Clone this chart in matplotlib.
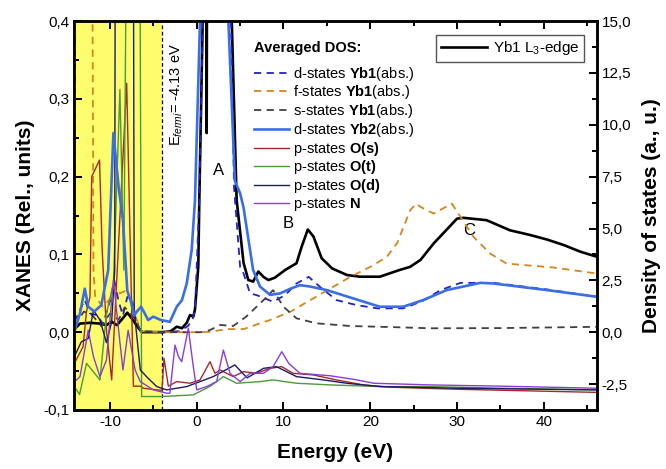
import matplotlib
matplotlib.use("Agg")
import matplotlib.pyplot as plt
from matplotlib.ticker import MultipleLocator, FuncFormatter

plt.rcParams['font.family'] = ['Liberation Sans', 'DejaVu Sans']
plt.rcParams['mathtext.fontset'] = 'custom'
plt.rcParams['mathtext.rm'] = 'Liberation Sans'
plt.rcParams['mathtext.it'] = 'Liberation Sans:italic'
plt.rcParams['mathtext.bf'] = 'Liberation Sans:bold'
plt.rcParams['axes.unicode_minus'] = False

# XANES Yb1 L3-edge (left axis)
xanes_e = [-14.0, -13.45, -12.3, -11.15, -10.4, -9.8, -9.2, -8.65, -8.0, -7.5, -6.7, -6.3, -5.0, -4.0,
           -3.0, -2.3, -1.7, -1.15, -0.77, -0.39, -0.2, 0.18, 0.3, 0.69, 1.0, 1.1, 1.15, 1.2, 1.5, 3.5,
           4.04, 4.6, 5.4, 5.95, 6.5, 7.1, 7.7, 8.26, 9.0, 10.2, 11.5, 12.1, 12.8, 13.45, 14.4, 15.6,
           17.3, 18.8, 21.1, 23.4, 24.6, 25.8, 27.3, 28.4, 30.0, 30.75, 33.4, 36.1, 38.4, 40.4, 42.3,
           44.2, 46.1]
xanes_i = [0.005, 0.011, 0.012, 0.011, 0.009, 0.0135, 0.009, 0.016, 0.025, 0.018, 0.005, 0.0, 0.0, 0.0,
           0.001, 0.007, 0.005, 0.012, 0.022, 0.02, 0.029, 0.084, 0.17, 0.4, 0.5, 0.55, 0.256, 0.55, 0.6, 0.6,
           0.4, 0.17, 0.089, 0.067, 0.065, 0.078, 0.071, 0.067, 0.07, 0.08, 0.0886, 0.11, 0.132, 0.123, 0.095,
           0.082, 0.0735, 0.0713, 0.0713, 0.08, 0.084, 0.093, 0.114, 0.127, 0.146, 0.147, 0.144, 0.131,
           0.125, 0.119, 0.112, 0.1035, 0.097]

# DOS curves (right axis)
yb1d_e = [-14.1, -13.45, -12.9, -12.3, -11.5, -10.8, -10.0, -9.5, -9.0, -8.5, -8.0, -7.5, -7.0, -6.5,
          -4.0, -2.0, -1.0, -0.5, -0.2, 0.0, 0.3, 0.75, 3.9, 4.3, 5.0, 5.4, 6.15, 6.9, 8.8, 10.2, 11.5,
          12.9, 14.2, 16.1, 18.4, 20.8, 23.8, 26.0, 28.1, 30.4, 34.2, 40.4, 46.1]
yb1d_r = [0.5, 1.07, 1.55, 0.9, 0.83, 0.4, 1.5, 2.5, 1.5, 0.8, 1.7, 1.6, 0.6, 0.05,
          0.0, 0.05, 0.3, 0.6, 1.07, 3.15, 6.5, 16.0, 16.0, 7.0, 3.15, 2.83, 1.87, 1.79, 1.47, 1.79, 2.35,
          2.67, 2.19, 1.55, 1.31, 1.15, 1.15, 1.5, 2.03, 2.38, 2.38, 2.06, 1.71]

yb1f_e = [-14.15, -13.7, -12.2, -11.9, -11.7, -10.8, -10.0, -9.3, -8.85, -8.2, -7.5, -6.9, -6.5, -4.0,
          0.0, 1.5, 3.5, 5.4, 6.15, 7.3, 8.45, 10.8, 13.1, 15.4, 17.7, 20.0, 21.9, 23.1, 24.6, 25.3, 25.8,
          27.3, 29.4, 30.4, 31.9, 33.8, 35.7, 38.0, 41.1, 46.1]
yb1f_r = [2.0, 40.0, 40.0, 3.0, 1.7, 1.23, 1.6, 2.2, 1.87, 2.0, 1.55, 0.6, 0.05, 0.0,
          0.0, 0.02, 0.15, 0.15, 0.26, 0.43, 0.59, 0.99, 1.55, 2.11, 2.67, 3.15, 3.63, 4.3, 5.88, 6.2, 6.04,
          5.72, 6.2, 5.56, 4.6, 3.8, 3.31, 3.23, 3.12, 2.83]

yb1s_e = [-14.1, -13.0, -12.0, -11.0, -10.0, -9.0, -8.3, -7.6, -7.0, -6.5, -4.0, 0.5, 1.5, 2.7, 4.2,
          5.7, 7.3, 8.1, 8.8, 10.0, 11.5, 13.8, 17.7, 23.1, 26.9, 35.0, 46.1]
yb1s_r = [0.3, 1.0, 0.8, 0.3, 0.9, 0.6, 1.2, 0.9, 0.6, 0.05, 0.0, 0.0, 0.1, 0.35, 0.3,
          0.75, 1.39, 1.71, 2.03, 1.23, 0.67, 0.43, 0.3, 0.24, 0.19, 0.2, 0.26]

yb2d_e = [-14.1, -13.45, -12.9, -12.5, -11.8, -11.0, -10.2, -9.6, -9.0, -8.5, -8.0, -7.6, -7.2, -6.9,
          -6.4, -5.6, -5.0, -4.2, -3.1, -2.3, -1.7, -1.15, -0.58, -0.2, 0.38, 1.0, 3.0, 3.65, 4.4, 5.0,
          5.4, 6.5, 7.3, 8.45, 9.6, 10.8, 11.9, 13.1, 15.0, 17.5, 21.1, 23.8, 26.1, 28.8, 32.7, 34.2,
          40.4, 46.1]
yb2d_r = [0.02, 0.91, 2.1, 1.23, 1.0, 1.3, 3.0, 9.6, 7.0, 5.4, 2.0, 1.5, 0.8, 1.0,
          1.23, 0.59, 0.75, 0.6, 0.5, 1.23, 1.55, 2.35, 3.96, 6.36, 15.0, 17.0, 17.0, 15.0, 7.3, 6.7,
          6.0, 3.0, 2.2, 1.8, 1.87, 2.1, 2.27, 2.2, 2.03, 1.7, 1.23, 1.23, 1.55, 2.03, 2.38, 2.35,
          2.03, 1.71]

os_e = [-14.1, -13.1, -12.7, -12.3, -12.1, -11.2, -10.9, -10.4, -9.8, -8.07, -7.3, -6.5, -6.15, -4.6,
        -4.0, -3.77, -3.27, -2.3, -0.77, 0.38, 1.53, 2.1, 2.7, 4.2, 5.4, 6.9, 8.45, 9.8, 11.1, 13.45,
        16.1, 19.2, 22.3, 30.0, 46.1]
os_r = [-1.5, -0.7, 1.0, 1.7, 7.5, 8.3, 4.0, 0.1, -2.3, 12.0, -2.6, -2.6, -2.7, -2.78,
        -2.8, -1.26, -2.6, -2.38, -2.46, -2.3, -1.42, -1.98, -1.82, -2.14, -1.9, -1.98, -1.74, -1.66,
        -1.98, -2.06, -2.3, -2.54, -2.65, -2.75, -2.9]

ot_e = [-14.1, -13.5, -12.7, -11.15, -10.4, -9.6, -8.85, -8.4, -7.9, -6.65, -6.35, -4.0, -0.4, 1.5,
        3.07, 4.6, 7.3, 8.8, 11.5, 15.4, 21.1, 26.9, 35.0, 46.1]
ot_r = [-2.62, -3.0, -1.5, -2.3, 0.9, 2.35, 11.7, 3.0, 30.0, 30.0, -3.1, -3.1, -3.02, -2.62,
        -2.14, -2.46, -2.38, -2.3, -2.46, -2.54, -2.62, -2.62, -2.7, -2.78]

od_e = [-14.1, -13.3, -12.5, -11.9, -11.15, -10.4, -9.8, -9.45, -9.35, -7.35, -7.2, -6.5, -5.6, -4.6,
        -3.46, -1.15, 0.38, 1.9, 4.4, 5.8, 7.7, 9.2, 11.5, 14.6, 17.3, 21.1, 30.0, 46.1]
od_r = [-1.18, -0.46, -0.3, 1.07, 0.59, -0.5, 0.5, 3.0, 30.0, 30.0, 1.0, -1.82, -2.22, -2.62,
        -2.78, -2.62, -2.38, -2.14, -1.58, -2.2, -1.74, -1.66, -2.14, -2.3, -2.46, -2.62, -2.7, -2.78]

n_e = [-14.1, -13.45, -12.5, -11.9, -11.15, -10.4, -9.6, -9.0, -8.5, -7.9, -7.1, -6.5, -5.0, -3.46,
       -3.1, -2.5, -2.1, -1.73, -0.97, -0.39, 0.0, 1.15, 2.3, 3.07, 3.84, 5.0, 6.15, 7.7, 8.8, 9.8,
       10.6, 11.9, 15.4, 18.5, 20.4, 26.9, 35.0, 46.1]
n_r = [-2.4, -2.14, 0.1, -1.18, -2.14, -1.34, 2.51, 0.1, -1.82, 0.1, -1.82, -2.38, -2.78, -2.94,
       -2.94, -0.62, -1.18, -1.42, 0.19, -1.66, -2.78, -2.62, -2.38, -0.86, -1.98, -2.38, -1.98, -1.98,
       -1.66, -0.94, -1.5, -1.98, -2.1, -2.3, -2.46, -2.54, -2.6, -2.7]

e_fermi = -4.0
peak_labels = ["A", "B", "C"]
peak_e = [2.46, 10.5, 31.4]
peak_i = [0.2085, 0.14, 0.131]

fig = plt.figure(figsize=(6.66, 4.69), dpi=100)
ax = fig.add_axes([0.111, 0.126, 0.785, 0.829])
ax2 = ax.twinx()

ax.axvspan(-14.15, e_fermi, color='#fdfd6e', zorder=0, lw=0)
ax.axvline(e_fermi, color='black', ls=(0, (3, 2)), lw=0.9, zorder=1)

ax.plot(xanes_e, xanes_i, color='black', lw=1.9, label=r'Yb1 L$_3$-edge', zorder=3)

dash = (0, (4, 3))
h1, = ax2.plot(yb1d_e, yb1d_r, color='#2222c8', lw=1.3, ls=dash, label=r'd-states $\mathbf{Yb1}$(abs.)')
h2, = ax2.plot(yb1f_e, yb1f_r, color='#d4861c', lw=1.3, ls=dash, label=r'f-states $\mathbf{Yb1}$(abs.)')
h3, = ax2.plot(yb1s_e, yb1s_r, color='#404040', lw=1.3, ls=dash, label=r's-states $\mathbf{Yb1}$(abs.)')
h5, = ax2.plot(os_e, os_r, color='#a8282a', lw=1.0, label=r'p-states $\mathbf{O(s)}$')
h6, = ax2.plot(ot_e, ot_r, color='#4c9a38', lw=1.0, label=r'p-states $\mathbf{O(t)}$')
h7, = ax2.plot(od_e, od_r, color='#1a1a66', lw=1.0, label=r'p-states $\mathbf{O(d)}$')
h8, = ax2.plot(n_e, n_r, color='#8a3cd6', lw=1.0, label=r'p-states $\mathbf{N}$')
h4, = ax2.plot(yb2d_e, yb2d_r, color='#3a6ee6', lw=1.9, label=r'd-states $\mathbf{Yb2}$(abs.)')

ax.set_xlim(-14.15, 46.1)
ax.set_ylim(-0.1, 0.4)
ax2.set_ylim(-3.745, 15)

comma = lambda fmt: FuncFormatter(lambda v, p: (fmt % v).replace('.', ','))
ax.xaxis.set_major_locator(MultipleLocator(10))
ax.xaxis.set_minor_locator(MultipleLocator(5))
ax.yaxis.set_major_locator(MultipleLocator(0.1))
ax.yaxis.set_minor_locator(MultipleLocator(0.05))
ax.yaxis.set_major_formatter(comma('%.1f'))
ax2.yaxis.set_major_locator(MultipleLocator(2.5))
ax2.yaxis.set_minor_locator(MultipleLocator(1.25))
ax2.yaxis.set_major_formatter(comma('%.1f'))

ax.tick_params(which='both', direction='in', top=True, width=1.4, labelsize=11)
ax.tick_params(which='major', length=6)
ax.tick_params(which='minor', length=3.5)
ax2.tick_params(which='both', direction='in', width=1.4, labelsize=11)
ax2.tick_params(which='major', length=6)
ax2.tick_params(which='minor', length=3.5)
for a in (ax, ax2):
    for s in a.spines.values():
        s.set_linewidth(1.8)

ax.set_xlabel('Energy (eV)', fontsize=15, fontweight='bold', labelpad=10)
ax.set_ylabel('XANES (Rel., units)', fontsize=15, fontweight='bold', labelpad=6)
ax2.set_ylabel('Density of states (a., u.)', fontsize=15, fontweight='bold', labelpad=8)

for lab, e, i in zip(peak_labels, peak_e, peak_i):
    ax.text(e, i, lab, fontsize=12, ha='center', va='center', zorder=5)
ax.text(-2.3, 0.305, r'E$_{fermi}$= -4.13 eV', rotation=90, fontsize=10.5, ha='center', va='center')

leg1 = ax2.legend(handles=[h1, h2, h3, h4, h5, h6, h7, h8], title='Averaged DOS:', loc='upper left',
                  bbox_to_anchor=(0.325, 0.975), frameon=False, fontsize=10.5, handlelength=2.4,
                  labelspacing=0.05, handletextpad=0.25, borderpad=0.2, alignment='left',
                  title_fontproperties={'weight': 'bold', 'size': 10.5})
leg1._legend_box.sep = 7
ax2.add_artist(leg1)
leg2 = ax2.legend(handles=ax.get_lines()[1:2], loc='upper right', bbox_to_anchor=(0.99, 0.985),
                  fontsize=11, fancybox=False, framealpha=1, edgecolor='#555555', handlelength=3.0,
                  borderpad=0.3, handletextpad=0.4)
leg2.get_frame().set_linewidth(1.0)

fig.savefig('out.png', dpi=100)
